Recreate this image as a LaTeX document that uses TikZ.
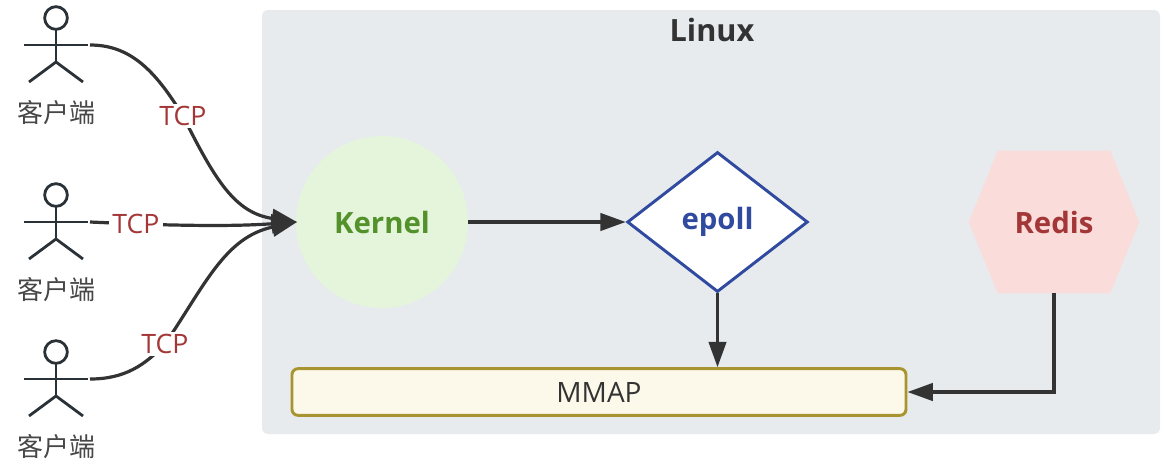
\documentclass[tikz,border=0pt]{standalone}
\usepackage{fontspec}
\setmainfont{Open Sans}
\newfontfamily\cjk{Noto Sans CJK SC}
\usetikzlibrary{arrows.meta,shapes.geometric}
\definecolor{ink}{HTML}{333333}
\definecolor{actorc}{HTML}{2A3238}
\definecolor{tcpc}{HTML}{A33636}
\definecolor{linuxbg}{HTML}{E7EBEE}
\definecolor{kernelbg}{HTML}{E4F5DC}
\definecolor{kernelfg}{HTML}{53922A}
\definecolor{epollc}{HTML}{304AA0}
\definecolor{redisbg}{HTML}{FADCDB}
\definecolor{mmapline}{HTML}{A89530}
\definecolor{mmapbg}{HTML}{FDF9EA}
\tikzset{
  x=0.75pt,y=-0.75pt,
  actorlabel/.style={font=\cjk\fontsize{19.5}{22}\selectfont,text=ink!90,inner sep=0pt},
  tcplabel/.style={font=\fontsize{20}{24}\selectfont,text=tcpc,fill=white,inner xsep=2.5pt,inner ysep=2pt},
  boldtxt/.style={font=\bfseries\fontsize{22}{26}\selectfont,inner sep=0pt},
  actorline/.style={draw=actorc,line width=2.1pt},
  conn/.style={draw=ink,line width=2.4pt},
  bigtip/.style={-{Triangle[length=19pt,width=14pt]}},
  smalltip/.style={-{Triangle[length=19pt,width=13pt]}},
  pics/actor/.style={code={
    \draw[actorline] (0,-27) circle (8.5pt);
    \draw[actorline] (0,-16) -- (0,17);
    \draw[actorline] (-32,0) -- (32,0);
    \draw[actorline] (-27,37) -- (0,17) -- (27,37);
  }}
}
\begin{document}
\begin{tikzpicture}
\useasboundingbox (0,0) rectangle (1169,465);
\node[fill=linuxbg,rounded corners=4pt,minimum width=673.5pt,minimum height=318pt,inner sep=0pt] (linux) at (711,222) {};
\node[boldtxt,font=\bfseries\fontsize{23}{27}\selectfont,text=ink] (title) at (712,30) {Linux};

\pic at (56,45) {actor};
\pic at (56,222) {actor};
\pic at (56,379) {actor};
\coordinate (h1) at (90,45);
\coordinate (h2) at (90,222);
\coordinate (h3) at (90,379);
\node[actorlabel] (c1) at (56,113) {客户端};
\node[actorlabel] (c2) at (56,290) {客户端};
\node[actorlabel] (c3) at (56,447) {客户端};

\node[circle,fill=kernelbg,minimum size=129pt,inner sep=0pt,boldtxt,text=kernelfg] (kernel) at (382,222) {Kernel};
\node[diamond,draw=epollc,line width=2.2pt,fill=white,minimum width=135.5pt,minimum height=105pt,aspect=1.29,boldtxt,text=epollc] (epoll) at (717.5,222) {epoll};
\node[minimum width=127.5pt,minimum height=106.5pt,inner sep=0pt] (redisbox) at (1054,222) {};
\fill[redisbg] (redisbox.west) -- ([xshift=21.75pt]redisbox.north west) -- ([xshift=-21.75pt]redisbox.north east) -- (redisbox.east) -- ([xshift=-21.75pt]redisbox.south east) -- ([xshift=21.75pt]redisbox.south west) -- cycle;
\node[boldtxt,text=tcpc] (redis) at (redisbox) {Redis};
\node[draw=mmapline,line width=2.2pt,fill=mmapbg,rounded corners=4.5pt,minimum width=460.5pt,minimum height=35pt,inner sep=0pt,font=\fontsize{21}{25}\selectfont,text=ink] (mmap) at (599,392) {MMAP};

\coordinate (kin) at (297,222);
\coordinate (e1a) at (183,116);
\coordinate (e2a) at (136,224);
\coordinate (e3a) at (165,344);
\draw[conn] (h1) .. controls (130,45) and (155,70) .. (e1a);
\draw[conn,bigtip] (e1a) .. controls (215,180) and (235,213) .. (kin);
\draw[conn] (h2) -- (e2a);
\draw[conn,bigtip] (e2a) .. controls (200,226) and (240,226) .. (kin);
\draw[conn] (h3) .. controls (125,379) and (145,365) .. (e3a);
\draw[conn,bigtip] (e3a) .. controls (205,285) and (225,237) .. (kin);
\node[tcplabel] (t1) at (e1a) {TCP};
\node[tcplabel] (t2) at (e2a) {TCP};
\node[tcplabel] (t3) at (e3a) {TCP};

\draw[conn,smalltip] (kernel) -- (epoll);
\draw[conn,smalltip] (epoll) -- (epoll|-mmap.north);
\draw[conn,smalltip] (redisbox.south) |- (mmap.east);
\end{tikzpicture}
\end{document}
